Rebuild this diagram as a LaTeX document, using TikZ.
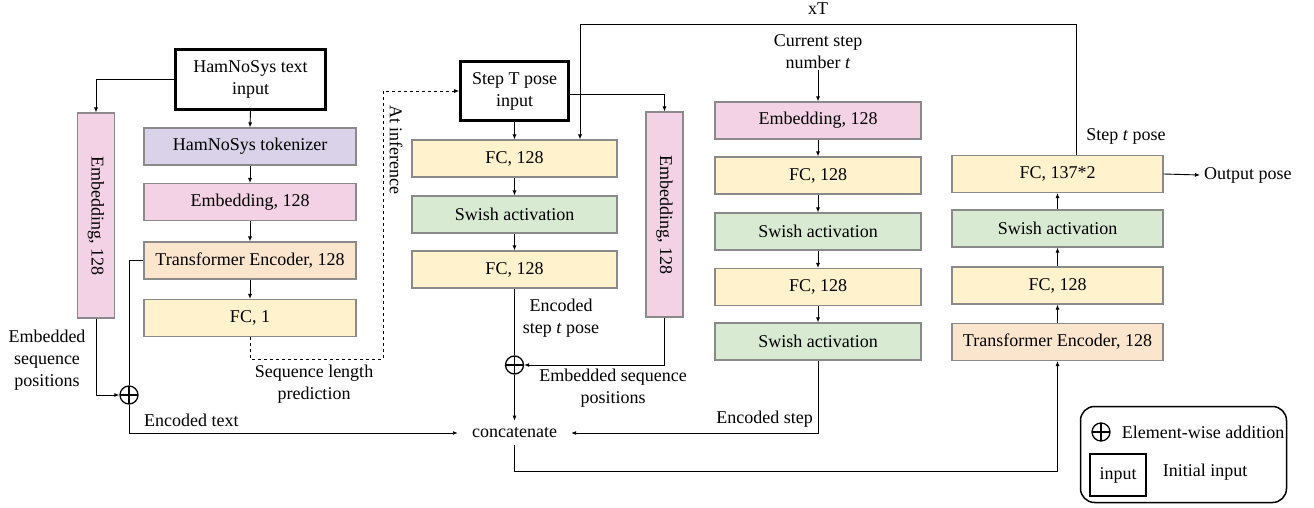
\documentclass[tikz,border=0pt]{standalone}
\usepackage{fontspec}
\setmainfont{Liberation Serif}
\newfontfamily\tnr{Liberation Serif}
\usetikzlibrary{arrows.meta,positioning}
\definecolor{cyel}{HTML}{FFF2CC}
\definecolor{cgrn}{HTML}{D9EAD3}
\definecolor{cpnk}{HTML}{F3D2E5}
\definecolor{cpur}{HTML}{D9D2E9}
\definecolor{corg}{HTML}{FCE5CD}
\definecolor{cbrd}{HTML}{8A8A8A}
\tikzset{
  every node/.style={font=\tnr\fontsize{18}{22}\selectfont},
  blk/.style={draw=cbrd, line width=1.1pt, inner sep=0pt, minimum height=37pt, align=center},
  inbox/.style={draw=black, line width=2.6pt, inner sep=0pt, align=center},
  vbar/.style={blk, minimum width=37pt, minimum height=205pt, fill=cpnk},
  lbl/.style={align=center, inner sep=1pt},
  conn/.style={draw=black, line width=0.9pt},
  arr/.style={conn, -{Latex[length=5pt,width=4pt]}},
  oplus/.style={circle, draw=black, line width=1.3pt, minimum size=18pt, inner sep=0pt,
    path picture={\draw[line width=1.3pt] (path picture bounding box.north) -- (path picture bounding box.south)
      (path picture bounding box.west) -- (path picture bounding box.east);}}
}
\begin{document}
\begin{tikzpicture}[x=1pt,y=-1pt]
\useasboundingbox (0,0) rectangle (1314,508);
% ---------- left column ----------
\node[inbox, minimum width=150pt, minimum height=60pt] (hin) at (250.5,79.5) {HamNoSys text\\input};
\node[blk, fill=cpur, minimum width=212pt] (tok) at (250,146.5) {HamNoSys tokenizer};
\node[blk, fill=cpnk, minimum width=212pt] (emb1) at (250,202) {Embedding, 128};
\node[blk, fill=corg, minimum width=212pt] (te1) at (250,260.5) {Transformer Encoder, 128};
\node[blk, fill=cyel, minimum width=212pt] (fc1) at (250,318) {FC, 1};
\node[vbar] (lemb) at (96,215.5) {\rotatebox{-90}{Embedding, 128}};
\node[oplus] (op1) at (129,395) {};
\node[lbl] (lep) at (47,360) {Embedded\\sequence\\positions};
\node[lbl, anchor=west] (etxt) at (143,420) {Encoded text};
\node[lbl] (slp) at (314,384) {Sequence length\\prediction};
\node[lbl, rotate=-90] (ainf) at (396,150) {At inference};
% ---------- middle column ----------
\node[inbox, minimum width=108pt, minimum height=59pt] (sin) at (514.5,91) {Step T pose\\input};
\node[blk, fill=cyel, minimum width=205pt] (m1) at (514.5,158.5) {FC, 128};
\node[blk, fill=cgrn, minimum width=205pt] (m2) at (514.5,214.5) {Swish activation};
\node[blk, fill=cyel, minimum width=205pt] (m3) at (514.5,269.5) {FC, 128};
\node[oplus] (op2) at (514.5,365) {};
\node[vbar] (remb) at (664.5,214.5) {\rotatebox{-90}{Embedding, 128}};
\node[inner xsep=14pt, inner ysep=7pt] (cat) at (514.5,433) {concatenate};
\node[lbl] (esp) at (561,318) {Encoded\\step \textit{t} pose};
\node[lbl] (esp2) at (613,388) {Embedded sequence\\positions};
% ---------- third column ----------
\node[lbl] (cur) at (818,52) {Current step\\number \textit{t}};
\node[blk, fill=cpnk, minimum width=206pt] (t1) at (818,120.5) {Embedding, 128};
\node[blk, fill=cyel, minimum width=206pt] (t2) at (818,175.5) {FC, 128};
\node[blk, fill=cgrn, minimum width=206pt] (t3) at (818,231.5) {Swish activation};
\node[blk, fill=cyel, minimum width=206pt] (t4) at (818,287) {FC, 128};
\node[blk, fill=cgrn, minimum width=206pt] (t5) at (818,341.5) {Swish activation};
\node[lbl, anchor=east] (estep) at (814,419) {Encoded step};
\node[lbl] (xt) at (818,9) {xT};
% ---------- fourth column ----------
\node[blk, fill=cyel, minimum width=211pt] (o1) at (1057.5,174) {FC, 137*2};
\node[blk, fill=cgrn, minimum width=211pt] (o2) at (1057.5,228.5) {Swish activation};
\node[blk, fill=cyel, minimum width=211pt] (o3) at (1057.5,285.5) {FC, 128};
\node[blk, fill=corg, minimum width=211pt] (o4) at (1057.5,342) {Transformer Encoder, 128};
\node[lbl, anchor=west, inner sep=4pt] (outp) at (1200,175) {Output pose};
\node[lbl] (stp) at (1126,136) {Step \textit{t} pose};
% ---------- legend ----------
\node[draw=black, line width=1.5pt, rounded corners=14pt, minimum width=206pt, minimum height=96pt, inner sep=0pt] (leg) at (1183.5,454.5) {};
\node[oplus] (lop) at (1101,432) {};
\node[lbl] (lopt) at (1203,432) {Element-wise addition};
\node[inbox, minimum width=56pt, minimum height=42pt] (lin) at (1118,475) {input};
\node[lbl] (lint) at (1205,472) {Initial input};
% ---------- helper coordinates ----------
\coordinate (dc) at (383,359);
\coordinate (lpr) at (1076,24);
\coordinate (lpl) at (580,24);
\coordinate (bl) at (514.5,471);
% ---------- connectors ----------
\draw[arr] (hin.west) -| (lemb.north);
\draw[arr] (hin.south) -- (tok.north);
\draw[arr] (tok.south) -- (emb1.north);
\draw[arr] (emb1.south) -- (te1.north);
\draw[arr] (te1.south) -- (fc1.north);
\draw[arr] (lemb.south) |- (op1.west);
\draw[conn] (te1.west) -| (op1.north);
\draw[arr] (op1.south) |- (cat.west);
\draw[arr, dashed] (fc1.south) |- (dc) |- (sin.west);
\draw[arr] (sin.south) -- (m1.north);
\draw[arr] (m1.south) -- (m2.north);
\draw[arr] (m2.south) -- (m3.north);
\draw[conn] (m3.south) -- (op2.north);
\draw[arr] (op2.south) -- (cat.north);
\draw[arr] ([yshift=-3pt]sin.east) -| (remb.north);
\draw[arr] (remb.south) |- (op2.east);
\draw[arr] (o1.north -| lpr) -- (lpr) -- (lpl) -- (lpl |- m1.north);
\draw[arr] (cur.south) -- (t1.north);
\draw[arr] (t1.south) -- (t2.north);
\draw[arr] (t2.south) -- (t3.north);
\draw[arr] (t3.south) -- (t4.north);
\draw[arr] (t4.south) -- (t5.north);
\draw[arr] (t5.south) |- (cat.east);
\draw[arr] (cat.south) -- (bl) -| (o4.south);
\draw[arr] (o4.north) -- (o3.south);
\draw[arr] (o3.north) -- (o2.south);
\draw[arr] (o2.north) -- (o1.south);
\draw[arr] (o1.east) -- (outp.west);
\end{tikzpicture}
\end{document}
